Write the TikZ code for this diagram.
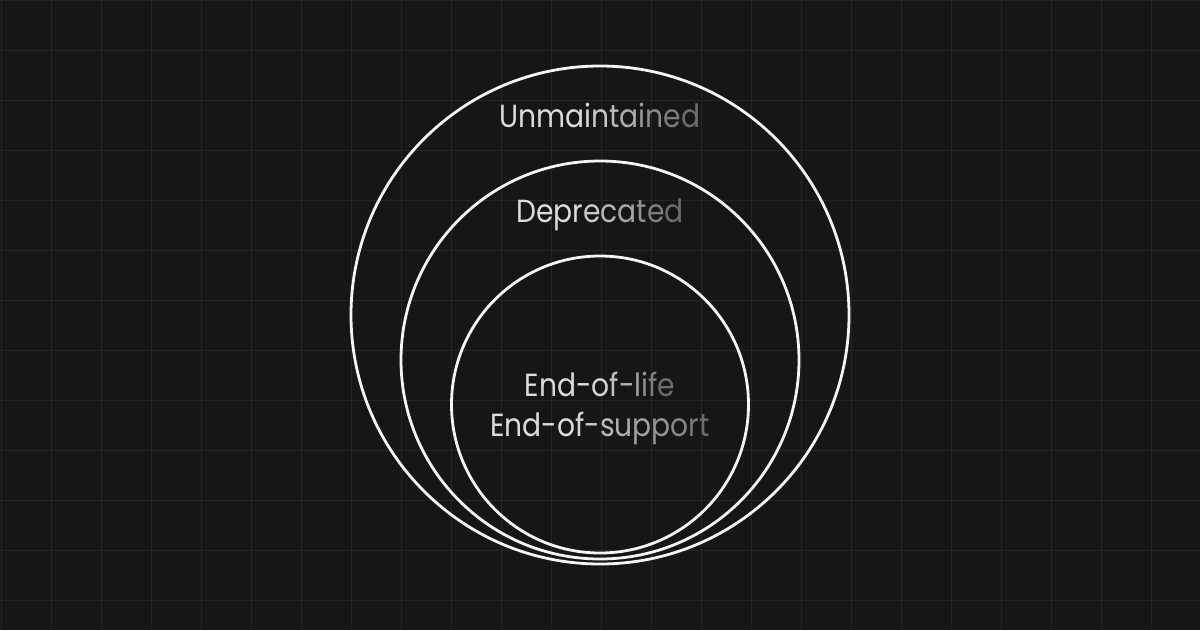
\documentclass[tikz,border=0pt]{standalone}
\usepackage{fontspec}
\setmainfont{Poppins}[FakeStretch=0.88]
\definecolor{bg}{HTML}{161616}
\definecolor{gridc}{HTML}{252525}
\definecolor{ringc}{HTML}{F4F4F4}
\definecolor{txtL}{HTML}{DCDCDC}
\definecolor{txtD}{HTML}{6C6C6C}
\ExplSyntaxOn
\NewDocumentCommand\gradtext{m}{
  \int_set:Nn \l_tmpa_int {\tl_count:n{#1}}
  \int_zero:N \l_tmpb_int
  \tl_map_inline:nn {#1}{
    \int_incr:N \l_tmpb_int
    \fp_set:Nn \l_tmpa_fp { (\l_tmpb_int-1)/(\l_tmpa_int-1) }
    \fp_set:Nn \l_tmpb_fp { max(0, min(1, (\l_tmpa_fp - 0.35)/0.65)) }
    \color{txtD!\fp_eval:n{round(100*\l_tmpb_fp,0)}!txtL}##1
  }
}
\ExplSyntaxOff
\tikzset{
  ring/.style={draw=ringc, line width=2.8pt},
  lbl/.style={anchor=base, inner sep=0pt, font=\fontsize{32}{36}\selectfont},
  gridline/.style={draw=gridc, line width=1pt}
}
\begin{document}
\begin{tikzpicture}[x=1pt,y=-1pt]
\useasboundingbox (0,0) rectangle (1200,630);
\fill[bg] (0,0) rectangle (1200,630);
\foreach \i in {0,...,24} {\draw[gridline] (50*\i+1,0) -- (50*\i+1,630);}
\foreach \j in {0,...,12} {\draw[gridline] (0,50*\j) -- (1200,50*\j);}
\node[ring, circle, minimum size=498pt, inner sep=0pt] (outer) at (600,315) {};
\node[ring, circle, minimum size=398pt, inner sep=0pt] (middle) at (600,360) {};
\node[ring, circle, minimum size=297pt, inner sep=0pt] (inner) at (600,404.5) {};
\node[lbl] (unm) at (600,127) {\gradtext{Unmaintained}};
\node[lbl] (dep) at (600,222) {\gradtext{Deprecated}};
\node[lbl] (eol) at (600,396) {\gradtext{End-of-life}};
\node[lbl] (eos) at (600,436) {\gradtext{End-of-support}};
\end{tikzpicture}
\end{document}
